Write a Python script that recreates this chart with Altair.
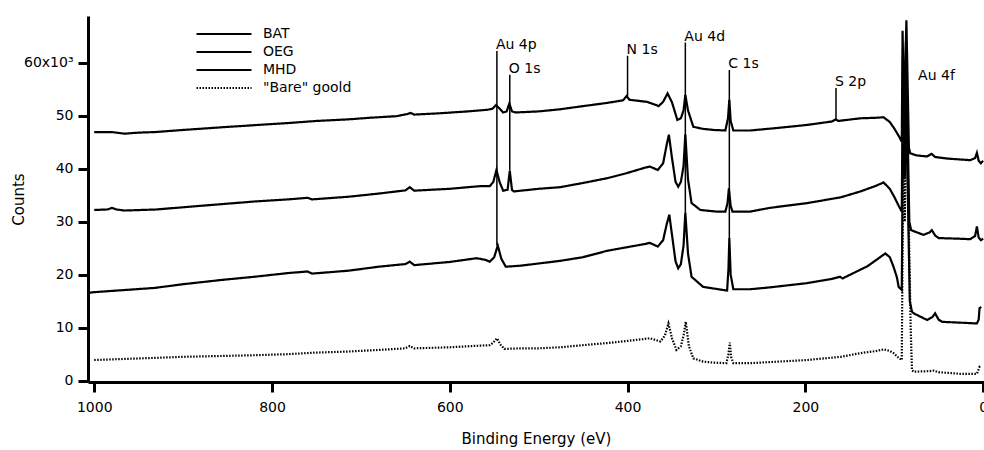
import altair as alt
import pandas as pd

FONT = "DejaVu Sans"

series_names = ["BAT", "OEG", "MHD", '"Bare" goold']

# Binding energy (eV) and counts (x10^3)
bat_ev = [1000, 980, 966, 950, 932, 900, 857, 820, 782, 750, 714, 690, 660, 648, 644, 640, 611, 580, 558, 552, 548, 545, 540, 536, 533, 530, 526, 500, 476, 450, 423, 405, 401, 398, 378, 368, 365, 360, 355, 350, 344, 340, 337, 335, 332, 326, 315, 303, 290, 287, 285.5, 284, 281, 262, 230, 198, 170, 166, 163, 138, 120, 112, 105, 100, 95, 91.5, 90.6, 88.8, 86.3, 83.5, 82, 75, 63, 58, 54, 40, 14.5, 9, 7, 5, 2.5, 0]
bat_k = [46.9, 46.9, 46.6, 46.8, 46.9, 47.3, 47.8, 48.2, 48.6, 49.0, 49.3, 49.6, 49.9, 50.3, 50.5, 50.2, 50.45, 50.8, 51.1, 51.3, 52.0, 51.5, 50.6, 50.8, 52.3, 50.8, 50.6, 50.8, 51.2, 51.8, 52.4, 52.9, 53.7, 53.0, 52.6, 52.0, 51.8, 52.6, 54.2, 52.5, 49.2, 49.5, 51.0, 53.9, 51.0, 47.9, 47.5, 47.3, 47.2, 49.5, 53.0, 49.0, 47.2, 47.2, 47.7, 48.25, 48.9, 49.3, 49.0, 49.5, 49.6, 49.7, 48.8, 47.6, 46.2, 45.1, 66.0, 50.0, 68.0, 44.0, 42.9, 42.5, 42.3, 42.8, 42.2, 41.9, 41.6, 42.0, 43.0, 41.5, 41.0, 41.5]

oeg_ev = [1000, 985, 980, 975, 966, 930, 894, 857, 820, 782, 760, 755, 714, 680, 650, 645, 640, 600, 566, 555, 551, 547.5, 544, 540, 535, 532.5, 530, 528, 500, 476, 450, 423, 400, 380, 375, 366, 360, 356, 353.5, 350, 346, 343, 340, 337, 335, 332, 328, 318, 300, 290, 287.5, 286, 284, 282, 262, 240, 198, 160, 138, 120, 112, 105, 100, 95, 91.5, 90.2, 88.4, 86.8, 83, 81, 67, 60, 57.6, 54, 50, 30, 14.5, 9, 7, 5, 2.5, 0]
oeg_k = [32.2, 32.3, 32.6, 32.3, 32.1, 32.3, 32.8, 33.3, 33.8, 34.2, 34.5, 34.2, 34.7, 35.3, 35.9, 36.5, 35.85, 36.2, 36.7, 36.7, 37.5, 39.75, 37.5, 35.85, 36.0, 39.6, 36.0, 35.7, 36.2, 36.5, 37.3, 38.2, 39.2, 40.2, 40.4, 39.75, 41.0, 44.5, 46.4, 42.0, 37.5, 36.6, 37.5, 40.5, 46.5, 38.0, 33.5, 32.2, 31.9, 31.9, 33.5, 36.3, 33.0, 31.9, 31.9, 32.6, 33.5, 34.6, 35.7, 36.8, 37.4, 36.2, 34.7, 33.0, 31.9, 61.0, 44.0, 64.0, 30.0, 28.4, 27.5, 28.0, 28.4, 27.4, 26.9, 26.8, 26.7, 27.3, 29.1, 27.0, 26.5, 26.8]

mhd_ev = [1005, 1000, 966, 932, 900, 857, 820, 782, 760, 755, 714, 680, 650, 645, 640, 600, 570, 560, 555, 550, 546, 542, 537, 520, 498, 476, 450, 423, 400, 380, 375, 366, 360, 356, 353, 350, 346, 343, 340, 337, 335, 332, 328, 315, 292, 288, 286.5, 285.5, 284, 281, 262, 240, 198, 170, 161, 158, 130, 120, 110, 105, 100.8, 97, 95, 91.5, 89.8, 88, 87.2, 82.5, 80, 78, 63, 57, 54, 50, 46, 20, 7, 5, 4, 2]
mhd_k = [16.6, 16.7, 17.1, 17.5, 18.2, 19.0, 19.6, 20.3, 20.6, 20.2, 20.75, 21.5, 22.0, 22.45, 21.8, 22.4, 23.1, 22.8, 22.45, 23.3, 25.5, 23.0, 21.5, 21.7, 22.15, 22.6, 23.3, 24.5, 25.2, 25.8, 26.0, 25.3, 26.5, 29.5, 31.3, 27.5, 22.5, 21.2, 22.0, 25.5, 31.7, 24.0, 19.6, 17.7, 17.1, 17.0, 21.0, 26.9, 20.0, 17.25, 17.25, 17.6, 18.4, 19.2, 19.6, 19.3, 21.6, 22.8, 24.0, 23.3, 21.5, 19.5, 17.7, 17.1, 55.0, 38.0, 58.0, 15.0, 13.0, 12.7, 11.45, 12.0, 12.7, 11.5, 11.1, 10.9, 10.8, 11.5, 13.7, 13.9]

bare_ev = [1000, 966, 932, 900, 857, 820, 782, 750, 714, 680, 650, 645, 640, 600, 573, 555, 551, 547, 543, 538.6, 520, 500, 476, 450, 423, 400, 375, 363, 358, 354, 350, 345, 340, 337, 334.5, 331, 326, 315, 303, 288.8, 286.5, 285, 283.5, 281, 262, 230, 198, 160, 138, 120, 112, 105, 100.8, 95, 91.5, 89.5, 88.2, 86, 81.5, 80, 78.3, 60, 55.8, 50, 25.8, 7, 4, 2]
bare_k = [3.9, 4.1, 4.3, 4.5, 4.66, 4.8, 5.0, 5.3, 5.5, 5.8, 6.1, 6.55, 6.1, 6.3, 6.55, 6.7, 7.2, 8.0, 6.8, 6.0, 6.1, 6.1, 6.3, 6.7, 7.1, 7.5, 8.0, 7.4, 8.5, 10.8, 8.0, 5.8, 6.5, 8.5, 11.1, 6.5, 4.2, 3.6, 3.4, 3.3, 5.0, 7.2, 4.5, 3.3, 3.3, 3.6, 3.9, 4.5, 5.2, 5.6, 5.9, 5.6, 5.2, 4.3, 3.9, 50.0, 30.0, 52.0, 10.0, 2.0, 1.7, 1.8, 1.9, 1.6, 1.3, 1.3, 2.6, 2.4]

# Peak annotations
label_text = ["Au 4p", "O 1s", "N 1s", "Au 4d", "C 1s", "S 2p"]
label_ev = [547, 532.5, 400, 335, 285.5, 165.5]
label_top = [62.2, 57.7, 61.3, 63.8, 58.6, 55.2]
label_bottom = [25.5, 39.6, 53.7, 31.7, 26.9, 49.3]
au4f_text = ["Au 4f"]
au4f_ev = [72.0]
au4f_y = [56.3]

rows = []
for name, evs, ks in zip(series_names, [bat_ev, oeg_ev, mhd_ev, bare_ev], [bat_k, oeg_k, mhd_k, bare_k]):
    for i, (e, k) in enumerate(zip(evs, ks)):
        rows.append({"series": name, "ev": e, "k": k, "idx": i})
df = pd.DataFrame(rows)

lab_df = pd.DataFrame({"text": label_text, "ev": label_ev, "top": label_top, "bottom": label_bottom})
txt_df = pd.DataFrame({"text": label_text + au4f_text, "ev": label_ev + au4f_ev, "y": label_top + au4f_y})

xscale = alt.Scale(domain=[1007, -1], nice=False, zero=False)
yscale = alt.Scale(domain=[-0.25, 68.8], nice=False, zero=False)

xaxis = alt.Axis(
    values=[1000, 800, 600, 400, 200, 0], format="d", title="Binding Energy (eV)", grid=False,
    domainWidth=3, tickWidth=3, tickSize=10, labelPadding=8, labelFlush=False,
    labelOverlap=False, labelFont=FONT, labelFontSize=14, titleFont=FONT,
    titleFontSize=15, titleFontWeight="normal", titleY=56, titleBaseline="middle",
    domainColor="black", tickColor="black", labelColor="black", titleColor="black",
)
yaxis = alt.Axis(
    values=[0, 10, 20, 30, 40, 50, 60], title="Counts", grid=False,
    domainWidth=3, tickWidth=3, tickSize=10, labelPadding=5,
    labelExpr="datum.value == 60 ? '60x10³' : datum.label",
    labelFont=FONT, labelFontSize=14, titleFont=FONT, titleFontSize=15,
    titleFontWeight="normal", titleX=-70, titleY=183, titleAngle=-90,
    titleAlign="center", titleBaseline="middle",
    domainColor="black", tickColor="black", labelColor="black", titleColor="black",
)

lines = alt.Chart(df).mark_line(color="black").encode(
    x=alt.X("ev:Q", scale=xscale, axis=xaxis),
    y=alt.Y("k:Q", scale=yscale, axis=yaxis),
    detail="series:N",
    order="idx:Q",
    strokeDash=alt.StrokeDash(
        "series:N",
        scale=alt.Scale(domain=series_names, range=[[1, 0], [1, 0], [1, 0], [1.5, 1.5]]),
        legend=alt.Legend(
            title=None, orient="none", legendX=129, legendY=11, padding=0,
            symbolType="M-5,0H5", symbolSize=121, symbolStrokeWidth=2,
            symbolStrokeColor="black", symbolFillColor="transparent",
            labelOffset=32, rowPadding=4, labelFont=FONT, labelFontSize=14,
            labelColor="black",
        ),
    ),
    strokeWidth=alt.StrokeWidth(
        "series:N", scale=alt.Scale(domain=series_names, range=[2.2, 2.2, 2.2, 1.5]), legend=None
    ),
)

rules = alt.Chart(lab_df).mark_rule(color="black", strokeWidth=1.5).encode(
    x=alt.X("ev:Q", scale=xscale),
    y=alt.Y("top:Q", scale=yscale),
    y2="bottom:Q",
)

texts = alt.Chart(txt_df).mark_text(
    align="left", baseline="alphabetic", dx=-1, dy=-2, font=FONT, fontSize=14, color="black"
).encode(
    x=alt.X("ev:Q", scale=xscale),
    y=alt.Y("y:Q", scale=yscale),
    text="text:N",
)

chart = alt.layer(lines, rules, texts).properties(
    width=896, height=366,
    autosize=alt.AutoSizeParams(type="none"),
    padding={"left": 88, "top": 16, "right": 0, "bottom": 68},
    background="white",
).configure_view(stroke=None)

chart.save("out.html", embed_options={"renderer": "svg", "actions": False})
